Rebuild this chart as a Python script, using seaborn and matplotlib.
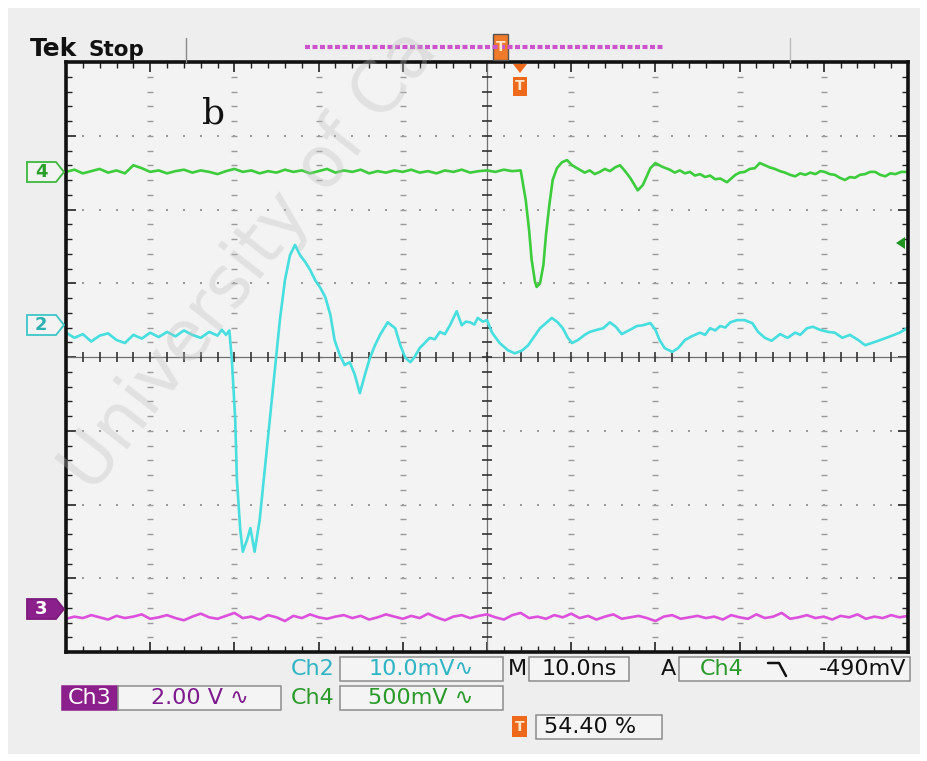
import numpy as np
import pandas as pd
import matplotlib
matplotlib.use("Agg")
import matplotlib.pyplot as plt
import seaborn as sns
from matplotlib.patches import Rectangle, Polygon
from matplotlib.lines import Line2D

# ---------------- data (time in ns, amplitude in screen divisions) ----------------
CH2_T = [-50, -49, -48, -47, -46, -45, -44, -43, -42, -41,
         -40, -39, -38, -37, -36, -35, -34, -33, -32, -31.5,
         -31, -30.6, -30.3, -29.9, -29.7, -29.3, -29.0, -28.5, -28.1, -27.6,
         -27.0, -26.4, -25.8, -25.2, -24.6, -24.0, -23.4, -22.8, -22.2, -21.6,
         -21.0, -20.4, -19.8, -19.2, -18.6, -18.1, -17.5, -16.9, -16.3, -15.7,
         -15.1, -14.5, -13.9, -13.3, -12.7, -11.8, -10.9, -10.3, -9.7, -9.1,
         -8.6, -8.0, -7.4, -6.8, -6.2, -5.6, -5.0, -4.4, -3.6, -3.0,
         -2.5, -2.0, -1.5, -1.1, -0.5, 0.0, 0.6, 1.5, 2.5, 3.3,
         4.2, 4.9, 5.5, 6.3, 7.0, 7.7, 8.4, 9.0, 9.6, 10.1,
         10.8, 11.6, 12.2, 13.1, 13.8, 14.6, 15.3, 16.0, 17.0, 17.8,
         18.5, 19.4, 20.0, 20.5, 21.1, 22.0, 22.7, 23.5, 24.3, 25.3,
         25.9, 26.5, 27.1, 27.7, 28.3, 28.9, 29.7, 30.6, 31.5, 32.2,
         33.0, 33.8, 34.8, 35.7, 36.6, 37.2, 38.0, 38.7, 39.5, 40.5,
         41.3, 42.2, 43.1, 44.1, 44.9, 45.7, 46.7, 47.9, 49.0, 49.9]
CH2_V = [0.33, 0.26, 0.31, 0.21, 0.29, 0.32, 0.23, 0.19, 0.30, 0.25,
         0.33, 0.27, 0.34, 0.28, 0.36, 0.30, 0.26, 0.34, 0.29, 0.37,
         0.30, 0.36, -0.04, -0.85, -1.67, -2.35, -2.64, -2.48, -2.32, -2.64,
         -2.21, -1.53, -0.85, -0.18, 0.50, 1.04, 1.38, 1.52, 1.38, 1.29,
         1.18, 1.04, 0.94, 0.81, 0.57, 0.23, 0.03, -0.11, -0.07, -0.24,
         -0.49, -0.24, -0.01, 0.16, 0.30, 0.47, 0.39, 0.16, -0.01, -0.07,
         0.00, 0.12, 0.19, 0.26, 0.24, 0.34, 0.31, 0.43, 0.62, 0.43,
         0.48, 0.47, 0.44, 0.53, 0.48, 0.50, 0.33, 0.19, 0.09, 0.05,
         0.09, 0.16, 0.26, 0.39, 0.46, 0.53, 0.47, 0.39, 0.26, 0.19,
         0.23, 0.30, 0.34, 0.37, 0.39, 0.47, 0.41, 0.31, 0.37, 0.42,
         0.43, 0.46, 0.37, 0.23, 0.12, 0.07, 0.12, 0.23, 0.28, 0.33,
         0.30, 0.39, 0.36, 0.42, 0.40, 0.47, 0.50, 0.50, 0.46, 0.34,
         0.26, 0.22, 0.31, 0.26, 0.33, 0.30, 0.39, 0.41, 0.37, 0.34,
         0.33, 0.26, 0.30, 0.23, 0.16, 0.19, 0.23, 0.28, 0.33, 0.39]

CH4_T = [-50, -49, -48, -47, -46, -45, -44, -43, -42, -41,
         -40, -39, -38, -37, -36, -35, -34, -33, -32, -31,
         -30, -29, -28, -27, -26, -25, -24, -23, -22, -21,
         -20, -19, -18, -17, -16, -15, -14, -13, -12, -11,
         -10, -9, -8, -7, -6, -5, -4, -3, -2, -1,
         0, 1, 2, 3, 4, 4.6, 5.0, 5.3, 5.7, 5.9,
         6.3, 6.7, 7.0, 7.4, 7.8, 8.3, 8.9, 9.5, 10.1, 11.0,
         11.6, 12.2, 12.8, 13.4, 14.0, 14.6, 15.2, 15.8, 16.4, 17.0,
         17.9, 18.5, 19.4, 20.0, 20.8, 21.7, 22.3, 22.9, 23.5, 24.1,
         24.7, 25.3, 25.9, 26.5, 27.1, 27.7, 28.5, 29.5, 30.0, 30.6,
         31.2, 31.8, 32.4, 33.0, 33.6, 34.2, 34.8, 35.4, 36.0, 36.6,
         37.2, 37.8, 38.4, 39.0, 39.6, 40.1, 40.7, 41.3, 41.9, 42.5,
         43.1, 43.7, 44.3, 44.9, 45.5, 46.1, 46.7, 47.3, 47.9, 48.5,
         49.2, 49.9]
CH4_V = [2.51, 2.54, 2.49, 2.52, 2.55, 2.50, 2.53, 2.49, 2.60, 2.56,
         2.51, 2.53, 2.49, 2.52, 2.54, 2.50, 2.53, 2.51, 2.48, 2.52,
         2.55, 2.51, 2.53, 2.49, 2.52, 2.50, 2.54, 2.51, 2.53, 2.49,
         2.52, 2.55, 2.50, 2.53, 2.51, 2.54, 2.49, 2.52, 2.50, 2.53,
         2.51, 2.54, 2.50, 2.52, 2.49, 2.53, 2.51, 2.54, 2.50, 2.52,
         2.53, 2.51, 2.54, 2.52, 2.53, 2.13, 1.72, 1.32, 1.02, 0.95,
         1.00, 1.25, 1.65, 2.06, 2.40, 2.56, 2.64, 2.67, 2.60, 2.54,
         2.50, 2.53, 2.48, 2.51, 2.55, 2.52, 2.57, 2.60, 2.52, 2.43,
         2.26, 2.33, 2.56, 2.63, 2.58, 2.54, 2.50, 2.53, 2.49, 2.51,
         2.46, 2.48, 2.44, 2.46, 2.41, 2.42, 2.37, 2.47, 2.50, 2.51,
         2.55, 2.56, 2.63, 2.60, 2.57, 2.55, 2.52, 2.50, 2.47, 2.45,
         2.49, 2.47, 2.50, 2.48, 2.52, 2.51, 2.48, 2.47, 2.43, 2.40,
         2.44, 2.43, 2.47, 2.48, 2.51, 2.51, 2.47, 2.45, 2.49, 2.48,
         2.51, 2.51]

CH3_T = list(range(-50, 51))
CH3_V = [-3.55, -3.52, -3.54, -3.50, -3.53, -3.56, -3.51, -3.54, -3.52, -3.49,
         -3.55, -3.53, -3.50, -3.54, -3.57, -3.52, -3.48, -3.53, -3.55, -3.51,
         -3.47, -3.54, -3.52, -3.56, -3.50, -3.53, -3.58, -3.51, -3.54, -3.49,
         -3.53, -3.55, -3.52, -3.50, -3.54, -3.51, -3.56, -3.53, -3.49, -3.52,
         -3.55, -3.51, -3.54, -3.48, -3.53, -3.57, -3.52, -3.50, -3.54, -3.51,
         -3.49, -3.53, -3.56, -3.50, -3.47, -3.54, -3.52, -3.55, -3.50, -3.53,
         -3.48, -3.54, -3.51, -3.56, -3.52, -3.49, -3.55, -3.53, -3.51, -3.54,
         -3.58, -3.52, -3.50, -3.55, -3.53, -3.51, -3.54, -3.52, -3.56, -3.50,
         -3.53, -3.55, -3.49, -3.54, -3.52, -3.47, -3.55, -3.53, -3.50, -3.54,
         -3.52, -3.56, -3.51, -3.53, -3.49, -3.55, -3.52, -3.54, -3.50, -3.53,
         -3.51]

CHANNELS = ["Ch2", "Ch4", "Ch3"]
COLORS = {"Ch2": "#46dede", "Ch4": "#3ccc3c", "Ch3": "#dc50dc"}

# readout labels
CH2_SCALE = "10.0mV\u223f"
CH3_SCALE = "2.00 V \u223f"
CH4_SCALE = "500mV \u223f"
TIMEBASE = "10.0ns"
TRIG_LEVEL = "-490mV"
TRIG_POS = "54.40 %"
WATERMARK = "University of Ca"

assert len(CH2_T) == len(CH2_V) and len(CH4_T) == len(CH4_V) and len(CH3_T) == len(CH3_V)

df = pd.concat([
    pd.DataFrame({"t": CH2_T, "v": CH2_V, "ch": "Ch2"}),
    pd.DataFrame({"t": CH4_T, "v": CH4_V, "ch": "Ch4"}),
    pd.DataFrame({"t": CH3_T, "v": CH3_V, "ch": "Ch3"}),
], ignore_index=True)

# ---------------- figure ----------------
sns.set_style("white")
plt.rcParams["font.family"] = ["DejaVu Sans"]
W, H = 927, 761
fig = plt.figure(figsize=(W / 100, H / 100), dpi=100)
fig.patch.set_facecolor("white")


def X(px):
    return px / W


def Y(py):
    return 1 - py / H


fig.add_artist(Rectangle((X(8), Y(754)), X(920) - X(8), Y(8) - Y(754),
                         transform=fig.transFigure, fc="#eeeeee", ec="none", zorder=-5))

ax = fig.add_axes([X(66), Y(652), X(908) - X(66), Y(62) - Y(652)])
ax.set_facecolor("#f3f3f3")
ax.set_xlim(-50, 50)
ax.set_ylim(-4, 4)

# graticule
gcol = "#9a9a9a"
ydots = np.arange(-3.8, 3.81, 0.2)
xdots = np.arange(-48, 48.1, 2)
for xv in [-40, -30, -20, -10, 10, 20, 30, 40]:
    ax.plot([xv] * len(ydots), ydots, ls="none", marker="_", ms=4, mew=1, color=gcol, zorder=1)
for yv in [-3, -2, -1, 1, 2, 3]:
    ax.plot(xdots, [yv] * len(xdots), ls="none", marker="s", ms=1.6, mew=0, color=gcol, zorder=1)
ax.axhline(0, color="#707070", lw=0.9, zorder=1)
ax.axvline(0, color="#707070", lw=0.9, zorder=1)
ax.plot(xdots, [0] * len(xdots), ls="none", marker="|", ms=7, mew=1.2, color="#333333", zorder=1)
ax.plot([0] * len(ydots), ydots, ls="none", marker="_", ms=7, mew=1.2, color="#333333", zorder=1)

ax.set_xticks(np.arange(-50, 51, 10))
ax.set_xticks(np.arange(-50, 51, 2), minor=True)
ax.set_yticks(np.arange(-4, 4.1, 1))
ax.set_yticks(np.arange(-4, 4.01, 0.2), minor=True)
ax.tick_params(which="both", direction="in", top=True, right=True, bottom=True, left=True,
               labelbottom=False, labelleft=False, color="#222222")
ax.tick_params(which="major", length=7, width=1.2)
ax.tick_params(which="minor", length=4, width=1)
for s in ax.spines.values():
    s.set_linewidth(2.6)
    s.set_color("#111111")
    s.set_zorder(5)

# traces
sns.lineplot(data=df, x="t", y="v", hue="ch", hue_order=CHANNELS, palette=COLORS,
             estimator=None, sort=False, legend=False, lw=1.9, ax=ax, zorder=3)
ax.set_xlabel("")
ax.set_ylabel("")

ax.text(-32.5, 3.3, "b", fontsize=26, family="DejaVu Serif", color="#111111",
        ha="center", va="center", zorder=4)

# ---------------- left channel markers ----------------
def marker(yc, label, ec, fc, tc):
    pts = [(27, yc - 10), (56, yc - 10), (64, yc), (56, yc + 10), (27, yc + 10)]
    fig.add_artist(Polygon([(X(a), Y(b)) for a, b in pts], closed=True,
                           transform=fig.transFigure, fc=fc, ec=ec, lw=1.3))
    fig.text(X(41), Y(yc), label, color=tc, fontsize=13, weight="bold", ha="center", va="center")


marker(172, "4", "#3cb83c", "#f3f3f3", "#2aa02a")
marker(325, "2", "#3cc6c6", "#f3f3f3", "#2ab0b0")
marker(609, "3", "#7d1a7d", "#8b1f8b", "white")

# trigger level arrow (right)
fig.add_artist(Polygon([(X(896), Y(243)), (X(905), Y(237)), (X(905), Y(249))], closed=True,
                       transform=fig.transFigure, fc="#1f961f", ec="none"))

# ---------------- top bar ----------------
fig.text(X(30), Y(56), "Tek", fontsize=18, weight="bold", color="#111111", ha="left", va="baseline")
fig.text(X(88), Y(56), "Stop", fontsize=15.5, weight="semibold", color="#111111", ha="left", va="baseline")
fig.add_artist(Line2D([X(186), X(186)], [Y(38), Y(62)], transform=fig.transFigure, color="#888888", lw=1))
fig.add_artist(Line2D([X(790), X(790)], [Y(38), Y(62)], transform=fig.transFigure, color="#bbbbbb", lw=1))
fig.add_artist(Line2D([X(305), X(665)], [Y(47), Y(47)], transform=fig.transFigure,
                      color="#cc55cc", lw=3, dashes=(1.2, 0.6)))
fig.add_artist(Rectangle((X(493), Y(60)), X(508) - X(493), Y(34) - Y(60), transform=fig.transFigure,
                         fc="#ee7a2a", ec="#555555", lw=1))
fig.text(X(500.5), Y(47), "T", fontsize=10, weight="bold", color="#ffe6cc", ha="center", va="center")
fig.add_artist(Polygon([(X(513), Y(64)), (X(527), Y(64)), (X(520), Y(73))], closed=True,
                       transform=fig.transFigure, fc="#ee6a1a", ec="none"))
fig.add_artist(Rectangle((X(513), Y(96)), X(527) - X(513), Y(77) - Y(96), transform=fig.transFigure,
                         fc="#ee6a1a", ec="none"))
fig.text(X(520), Y(86.5), "T", fontsize=10, weight="bold", color="#ffe6cc", ha="center", va="center")

# ---------------- bottom readouts ----------------
def box(x0, y0, x1, y1, fc="#f4f4f4", ec="#8c8c8c"):
    fig.add_artist(Rectangle((X(x0), Y(y1)), X(x1) - X(x0), Y(y0) - Y(y1),
                             transform=fig.transFigure, fc=fc, ec=ec, lw=1.1))


FS = 16
cyan_t, green_t, purple_t = "#2fb4c4", "#2a9a2a", "#7d1a8d"
r1, r2, r3 = 669, 698, 727

fig.text(X(335), Y(r1), "Ch2", color=cyan_t, fontsize=FS, ha="right", va="center")
box(340, 657, 503, 681)
fig.text(X(421), Y(r1), CH2_SCALE, color=cyan_t, fontsize=FS, ha="center", va="center")
fig.text(X(517), Y(r1), "M", color="#111111", fontsize=FS, ha="center", va="center")
box(529, 657, 629, 681)
fig.text(X(579), Y(r1), TIMEBASE, color="#111111", fontsize=FS, ha="center", va="center")
fig.text(X(668), Y(r1), "A", color="#111111", fontsize=FS, ha="center", va="center")
box(679, 657, 910, 681)
fig.text(X(722), Y(r1), "Ch4", color=green_t, fontsize=FS, ha="center", va="center")
# falling-edge symbol
fig.add_artist(Line2D([X(768), X(779), X(786)], [Y(r1 - 6), Y(r1 - 6), Y(r1 + 7)],
                      transform=fig.transFigure, color="#111111", lw=1.8))
fig.text(X(906), Y(r1), TRIG_LEVEL, color="#111111", fontsize=FS, ha="right", va="center")

box(62, 686, 118, 710, fc="#8b1f8b", ec="#8b1f8b")
fig.text(X(90), Y(r2), "Ch3", color="white", fontsize=FS, ha="center", va="center")
box(118, 686, 281, 710)
fig.text(X(200), Y(r2), CH3_SCALE, color=purple_t, fontsize=FS, ha="center", va="center")
fig.text(X(335), Y(r2), "Ch4", color=green_t, fontsize=FS, ha="right", va="center")
box(340, 686, 503, 710)
fig.text(X(421), Y(r2), CH4_SCALE, color=green_t, fontsize=FS, ha="center", va="center")

fig.add_artist(Rectangle((X(512), Y(737)), X(527) - X(512), Y(716) - Y(737),
                         transform=fig.transFigure, fc="#ee6a1a", ec="none"))
fig.text(X(519.5), Y(r3), "T", fontsize=10, weight="bold", color="#ffe6cc", ha="center", va="center")
box(536, 715, 662, 739)
fig.text(X(544), Y(r3), TRIG_POS, color="#111111", fontsize=FS, ha="left", va="center")

# watermark (faint, the visible part of it)
fig.text(X(92), Y(495), WATERMARK, rotation=52, rotation_mode="anchor",
         fontsize=51, color="#bdbdbd", alpha=0.33, ha="left", va="baseline", zorder=20)

fig.savefig("out.png", dpi=100, facecolor=fig.get_facecolor())
